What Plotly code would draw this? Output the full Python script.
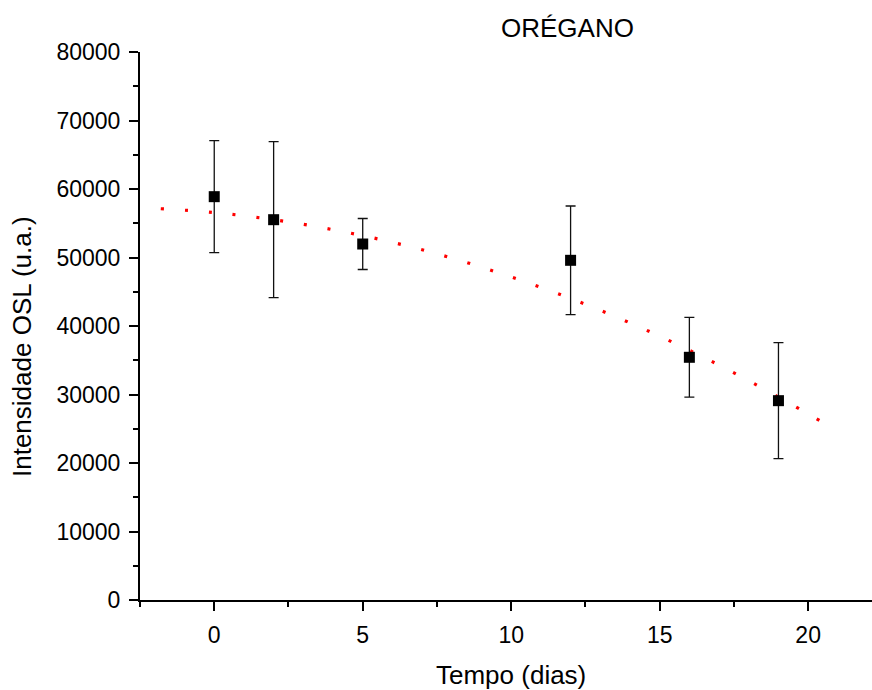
import plotly.graph_objects as go

# Measured data
tempo = [0, 2, 5, 12, 16, 19]
intensidade = [58880, 55520, 51970, 49590, 35430, 29100]
erro = [8180, 11390, 3720, 7930, 5820, 8470]

# Fit curve
fit_x = [-1.8, 0, 2, 4, 6, 8, 10, 12, 14, 16, 18, 20, 20.5]
fit_y = [57120, 56560, 55520, 54060, 52220, 49920, 47155, 44016, 40455, 36454, 32013, 27160, 25910]

title_text = "ORÉGANO"
x_title = "Tempo (dias)"
y_title = "Intensidade OSL (u.a.)"
x_ticks = [0, 5, 10, 15, 20]
x_ticktext = ["0", "5", "10", "15", "20"]
y_ticks = [0, 10000, 20000, 30000, 40000, 50000, 60000, 70000, 80000]
y_ticktext = ["0", "10000", "20000", "30000", "40000", "50000", "60000", "70000", "80000"]

FONT = "Liberation Sans, Arial, sans-serif"

fig = go.Figure()
fig.add_trace(go.Scatter(
    x=fit_x, y=fit_y, mode="lines",
    line=dict(color="#ff0000", width=3.2, dash="3px,21px", shape="spline"),
    showlegend=False, hoverinfo="skip"))
fig.add_trace(go.Scatter(
    x=tempo, y=intensidade, mode="markers",
    marker=dict(symbol="square", size=11, color="black"),
    error_y=dict(type="data", array=erro, visible=True, color="#111111",
                 thickness=1.3, width=5),
    showlegend=False))

fig.update_layout(
    width=872, height=690,
    margin=dict(l=140, r=0, t=52, b=90, pad=0),
    paper_bgcolor="white", plot_bgcolor="white",
    font=dict(family=FONT, color="black"),
    xaxis=dict(range=[-2.5, 22.15], tickvals=x_ticks, ticktext=x_ticktext,
               ticks="outside", automargin=False,
               ticklen=9, tickwidth=1.5, tickcolor="black",
               showline=True, linecolor="black", linewidth=2,
               showgrid=False, zeroline=False,
               tickfont=dict(size=23, family=FONT),
               ticklabelstandoff=4,
               minor=dict(tickvals=[-2.5, 2.5, 7.5, 12.5, 17.5], ticks="outside",
                          ticklen=5, tickwidth=1.5, tickcolor="black")),
    yaxis=dict(range=[0, 80000], tickvals=y_ticks, ticktext=y_ticktext,
               ticks="outside", automargin=False,
               ticklen=9, tickwidth=1.5, tickcolor="black",
               showline=True, linecolor="black", linewidth=2,
               showgrid=False, zeroline=False,
               tickfont=dict(size=23, family=FONT),
               ticklabelstandoff=4,
               minor=dict(tickvals=[5000, 15000, 25000, 35000, 45000, 55000, 65000, 75000],
                          ticks="outside", ticklen=5, tickwidth=1.5, tickcolor="black")),
    annotations=[
        dict(text=title_text, xref="paper", yref="paper",
             x=(567 - 140) / 732, y=1 + (52 - 28) / 548,
             xanchor="center", yanchor="middle", showarrow=False,
             font=dict(size=26, family=FONT)),
        dict(text=x_title, xref="paper", yref="paper",
             x=(511 - 140) / 732, y=-(675 - 600) / 548,
             xanchor="center", yanchor="middle", showarrow=False,
             font=dict(size=26, family=FONT)),
        dict(text=y_title, xref="paper", yref="paper",
             x=-(140 - 22) / 732, y=(600 - 346) / 548,
             xanchor="center", yanchor="middle", showarrow=False,
             textangle=-90, font=dict(size=26, family=FONT)),
    ],
)

fig.write_html("out.html",
               config={"displayModeBar": False},
               post_script="document.body.style.margin='0';document.body.style.padding='0';")
